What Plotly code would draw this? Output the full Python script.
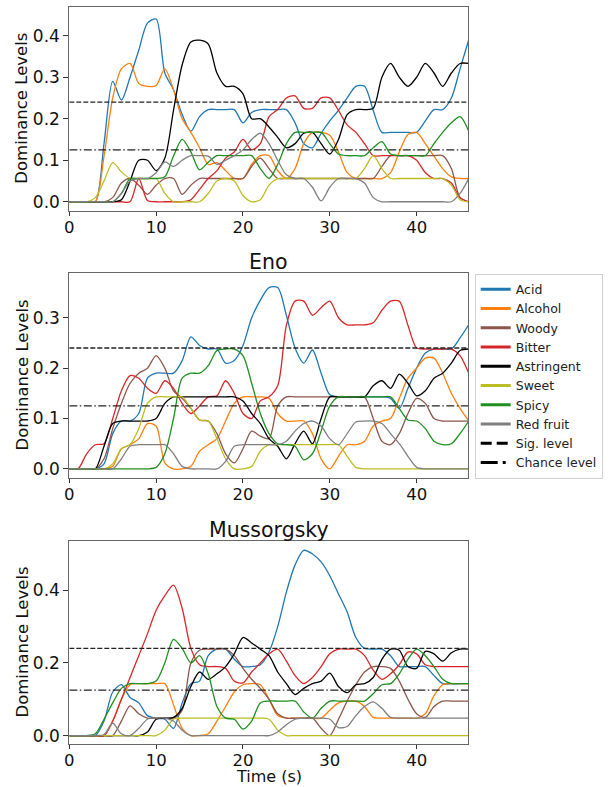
import plotly.graph_objects as go

# ---------------- data ----------------
T = list(range(47))  # seconds 0..46

SERIES = ["Acid", "Alcohol", "Woody", "Bitter", "Astringent", "Sweet", "Spicy", "Red fruit"]
COLORS = ["#1f77b4", "#ff7f0e", "#8c564b", "#d62728", "#000000", "#bcbd22", "#1f8f1f", "#7f7f7f"]

SIG_LEVEL = 0.24
CHANCE_LEVEL = 0.125

PANEL_TITLES = ["", "Eno", "Mussorgsky"]
X_TICKS = [0, 10, 20, 30, 40]
Y_TICKS = [[0.0, 0.1, 0.2, 0.3, 0.4], [0.0, 0.1, 0.2, 0.3], [0.0, 0.2, 0.4]]
Y_TICK_TEXT = [["0.0", "0.1", "0.2", "0.3", "0.4"], ["0.0", "0.1", "0.2", "0.3"], ["0.0", "0.2", "0.4"]]
Y_RANGES = [[-0.0215, 0.4697], [-0.0175, 0.3883], [-0.024, 0.5365]]
X_RANGE = [0, 45.95]

# Panel 1 (top)
p1_acid = [0, 0, 0, 0, 0.14, 0.29, 0.245, 0.30, 0.365, 0.43, 0.44, 0.31, 0.27, 0.21, 0.17, 0.205,
           0.222, 0.222, 0.222, 0.222, 0.19, 0.215, 0.222, 0.222, 0.222, 0.222, 0.19, 0.14, 0.13, 0.165,
           0.195, 0.22, 0.25, 0.278, 0.278, 0.22, 0.167, 0.167, 0.167, 0.167, 0.167, 0.195, 0.222, 0.222,
           0.25, 0.32, 0.39]
p1_alcohol = [0, 0, 0, 0, 0.11, 0.25, 0.32, 0.333, 0.285, 0.278, 0.28, 0.32, 0.27, 0.2, 0.167, 0.13,
              0.09, 0.094, 0.075, 0.056, 0.056, 0.09, 0.111, 0.111, 0.075, 0.056, 0.08, 0.14, 0.167, 0.167,
              0.16, 0.12, 0.07, 0.056, 0.056, 0.056, 0.056, 0.07, 0.12, 0.162, 0.167, 0.14, 0.11, 0.08,
              0.06, 0.056, 0.056]
p1_woody = [0, 0, 0, 0, 0, 0.01, 0.045, 0.056, 0.04, 0.018, 0.04, 0.056, 0.056, 0.018, 0.04, 0.056,
            0.056, 0.056, 0.056, 0.056, 0.056, 0.085, 0.105, 0.08, 0.056, 0.056, 0.056, 0.056, 0.056, 0.056,
            0.056, 0.056, 0.056, 0.056, 0.056, 0.056, 0.085, 0.111, 0.111, 0.111, 0.111, 0.111, 0.111, 0.111,
            0.08, 0.01, 0]
p1_bitter = [0, 0, 0, 0, 0, 0, 0, 0, 0.056, 0.003, 0, 0, 0, 0, 0.005, 0.03,
             0.056, 0.075, 0.105, 0.12, 0.15, 0.125, 0.14, 0.205, 0.222, 0.25, 0.255, 0.225, 0.225, 0.25,
             0.25, 0.22, 0.185, 0.167, 0.14, 0.111, 0.111, 0.111, 0.111, 0.111, 0.1, 0.07, 0.056, 0.056,
             0.045, 0.01, 0]
p1_astringent = [0, 0, 0, 0, 0, 0, 0.005, 0.05, 0.1, 0.1, 0.075, 0.105, 0.22, 0.33, 0.385, 0.389,
                 0.38, 0.31, 0.278, 0.278, 0.26, 0.2, 0.2, 0.18, 0.155, 0.13, 0.14, 0.165, 0.167, 0.14,
                 0.115, 0.15, 0.21, 0.222, 0.222, 0.225, 0.3, 0.333, 0.3, 0.278, 0.3, 0.333, 0.31, 0.278,
                 0.31, 0.333, 0.333]
p1_sweet = [0, 0, 0, 0.01, 0.05, 0.094, 0.072, 0.056, 0.056, 0.056, 0.056, 0.02, 0, 0, 0, 0,
            0.02, 0.05, 0.056, 0.05, 0.015, 0, 0.005, 0.04, 0.056, 0.056, 0.056, 0.056, 0.056, 0.056,
            0.056, 0.056, 0.056, 0.056, 0.08, 0.111, 0.08, 0.056, 0.056, 0.056, 0.056, 0.056, 0.056, 0.056,
            0.04, 0.005, 0]
p1_spicy = [0, 0, 0, 0, 0, 0, 0.02, 0.056, 0.056, 0.056, 0.056, 0.06, 0.11, 0.15, 0.12, 0.077,
            0.095, 0.111, 0.111, 0.111, 0.111, 0.111, 0.08, 0.056, 0.09, 0.14, 0.167, 0.167, 0.167, 0.167,
            0.14, 0.115, 0.111, 0.111, 0.111, 0.13, 0.145, 0.115, 0.111, 0.111, 0.111, 0.111, 0.14, 0.167,
            0.19, 0.205, 0.17]
p1_redfruit = [0, 0, 0, 0, 0, 0, 0.02, 0.05, 0.056, 0.056, 0.07, 0.096, 0.085, 0.1, 0.111, 0.111,
               0.11, 0.09, 0.1, 0.111, 0.125, 0.15, 0.165, 0.14, 0.1, 0.065, 0.056, 0.056, 0.035, 0.002,
               0.035, 0.056, 0.056, 0.056, 0.045, 0.01, 0, 0, 0, 0, 0, 0, 0, 0,
               0, 0.02, 0.056]

# Panel 2 (Eno)
p2_acid = [0, 0, 0, 0, 0.01, 0.07, 0.095, 0.095, 0.11, 0.18, 0.19, 0.19, 0.19, 0.215, 0.262, 0.245,
           0.238, 0.238, 0.21, 0.215, 0.245, 0.3, 0.335, 0.36, 0.36, 0.305, 0.24, 0.21, 0.236, 0.19,
           0.147, 0.143, 0.143, 0.143, 0.143, 0.143, 0.143, 0.14, 0.12, 0.16, 0.2, 0.23, 0.238, 0.238,
           0.238, 0.26, 0.286]
p2_alcohol = [0, 0, 0, 0, 0, 0.005, 0.04, 0.048, 0.06, 0.09, 0.085, 0.012, 0, 0, 0.005, 0.035,
              0.048, 0.06, 0.095, 0.13, 0.143, 0.143, 0.143, 0.14, 0.11, 0.095, 0.095, 0.095, 0.07, 0.02,
              0, 0.025, 0.048, 0.048, 0.055, 0.085, 0.095, 0.1, 0.14, 0.18, 0.2, 0.22, 0.22, 0.19,
              0.15, 0.12, 0.095]
p2_woody = [0, 0, 0, 0, 0.02, 0.08, 0.13, 0.17, 0.19, 0.2, 0.225, 0.2, 0.155, 0.14, 0.12, 0.097,
            0.095, 0.07, 0.03, 0.012, 0.04, 0.075, 0.065, 0.06, 0.125, 0.143, 0.143, 0.143, 0.143, 0.143,
            0.143, 0.143, 0.143, 0.143, 0.143, 0.1, 0.055, 0.048, 0.07, 0.11, 0.14, 0.13, 0.1, 0.095,
            0.095, 0.095, 0.095]
p2_bitter = [0, 0, 0.03, 0.048, 0.05, 0.1, 0.155, 0.185, 0.18, 0.16, 0.15, 0.175, 0.16, 0.13, 0.11, 0.125,
             0.143, 0.145, 0.175, 0.15, 0.11, 0.1, 0.135, 0.143, 0.165, 0.285, 0.333, 0.333, 0.305, 0.32,
             0.333, 0.3, 0.286, 0.286, 0.286, 0.29, 0.315, 0.333, 0.333, 0.285, 0.24, 0.238, 0.238, 0.238,
             0.238, 0.225, 0.19]
p2_astringent = [0, 0, 0, 0, 0.045, 0.09, 0.095, 0.095, 0.095, 0.095, 0.1, 0.13, 0.143, 0.143, 0.143, 0.143,
                 0.143, 0.143, 0.143, 0.143, 0.135, 0.11, 0.09, 0.06, 0.045, 0.02, 0.05, 0.075, 0.05, 0.1,
                 0.143, 0.143, 0.143, 0.143, 0.143, 0.165, 0.175, 0.16, 0.188, 0.17, 0.145, 0.155, 0.18, 0.19,
                 0.21, 0.235, 0.238]
p2_sweet = [0, 0, 0, 0, 0, 0.01, 0.04, 0.048, 0.08, 0.13, 0.143, 0.143, 0.143, 0.143, 0.12, 0.097,
            0.095, 0.06, 0.02, 0, 0, 0.005, 0.035, 0.048, 0.048, 0.048, 0.048, 0.048, 0.048, 0.048,
            0.048, 0.048, 0.025, 0.003, 0, 0, 0, 0, 0, 0, 0, 0, 0, 0,
            0, 0, 0]
p2_spicy = [0, 0, 0, 0, 0, 0, 0, 0, 0, 0, 0.003, 0.03, 0.1, 0.18, 0.19, 0.19,
            0.205, 0.235, 0.238, 0.238, 0.225, 0.17, 0.11, 0.07, 0.05, 0.048, 0.045, 0.018, 0.03, 0.075,
            0.125, 0.143, 0.143, 0.143, 0.143, 0.143, 0.143, 0.143, 0.12, 0.097, 0.095, 0.08, 0.055, 0.048,
            0.05, 0.07, 0.095]
p2_redfruit = [0, 0, 0, 0, 0, 0, 0.02, 0.045, 0.048, 0.048, 0.048, 0.048, 0.03, 0.005, 0, 0,
               0, 0, 0.015, 0.045, 0.048, 0.048, 0.048, 0.048, 0.048, 0.055, 0.075, 0.09, 0.095, 0.085,
               0.06, 0.048, 0.07, 0.093, 0.095, 0.095, 0.09, 0.07, 0.05, 0.025, 0.003, 0, 0, 0,
               0, 0, 0]

# Panel 3 (Mussorgsky)
p3_acid = [0, 0, 0, 0, 0.04, 0.12, 0.14, 0.105, 0.09, 0.055, 0.048, 0.045, 0.02, 0.09, 0.143, 0.15,
           0.22, 0.238, 0.238, 0.21, 0.19, 0.19, 0.195, 0.23, 0.3, 0.395, 0.47, 0.51, 0.5, 0.478,
           0.44, 0.39, 0.34, 0.27, 0.24, 0.238, 0.238, 0.22, 0.19, 0.19, 0.19, 0.19, 0.165, 0.143,
           0.143, 0.143, 0.143]
p3_alcohol = [0, 0, 0, 0, 0, 0.04, 0.1, 0.14, 0.143, 0.143, 0.143, 0.143, 0.085, 0.02, 0, 0,
              0.005, 0.04, 0.08, 0.12, 0.14, 0.143, 0.14, 0.1, 0.055, 0.048, 0.048, 0.048, 0.048, 0.048,
              0.07, 0.09, 0.095, 0.095, 0.08, 0.05, 0.048, 0.048, 0.048, 0.048, 0.048, 0.06, 0.11, 0.14,
              0.143, 0.143, 0.143]
p3_woody = [0, 0, 0, 0, 0, 0, 0.04, 0.082, 0.06, 0.048, 0.048, 0.048, 0.048, 0.07, 0.2, 0.235,
            0.238, 0.238, 0.238, 0.22, 0.185, 0.155, 0.13, 0.1, 0.06, 0.048, 0.048, 0.048, 0.048, 0.02,
            0, 0.045, 0.095, 0.14, 0.175, 0.19, 0.19, 0.185, 0.15, 0.1, 0.06, 0.05, 0.08, 0.095,
            0.095, 0.095, 0.095]
p3_bitter = [0, 0, 0, 0, 0, 0.04, 0.1, 0.16, 0.22, 0.28, 0.345, 0.385, 0.414, 0.35, 0.24, 0.195,
             0.19, 0.19, 0.185, 0.15, 0.145, 0.175, 0.2, 0.225, 0.238, 0.205, 0.165, 0.143, 0.16, 0.19,
             0.225, 0.238, 0.238, 0.238, 0.22, 0.18, 0.155, 0.17, 0.195, 0.23, 0.225, 0.195, 0.19, 0.19,
             0.19, 0.19, 0.19]
p3_astringent = [0, 0, 0, 0, 0, 0, 0, 0, 0, 0.01, 0.045, 0.048, 0.05, 0.075, 0.135, 0.175,
                 0.155, 0.17, 0.19, 0.225, 0.27, 0.255, 0.238, 0.22, 0.175, 0.143, 0.113, 0.13, 0.143, 0.15,
                 0.172, 0.135, 0.118, 0.14, 0.143, 0.16, 0.21, 0.238, 0.235, 0.19, 0.185, 0.232, 0.225, 0.205,
                 0.228, 0.238, 0.238]
p3_sweet = [0, 0, 0, 0, 0, 0, 0, 0, 0, 0, 0, 0.015, 0.045, 0.048, 0.048, 0.048,
            0.048, 0.048, 0.048, 0.048, 0.048, 0.048, 0.048, 0.045, 0.015, 0, 0, 0, 0, 0,
            0, 0, 0, 0, 0, 0, 0, 0, 0, 0, 0, 0, 0, 0,
            0, 0, 0]
p3_spicy = [0, 0, 0, 0.005, 0.045, 0.09, 0.13, 0.143, 0.143, 0.143, 0.15, 0.2, 0.265, 0.24, 0.2, 0.22,
            0.17, 0.08, 0.048, 0.045, 0.018, 0.04, 0.09, 0.095, 0.095, 0.095, 0.095, 0.065, 0.048, 0.075,
            0.095, 0.095, 0.095, 0.095, 0.095, 0.115, 0.14, 0.143, 0.17, 0.21, 0.238, 0.22, 0.19, 0.155,
            0.143, 0.143, 0.143]
p3_redfruit = [0, 0, 0, 0, 0.003, 0.034, 0.005, 0, 0.02, 0.045, 0.048, 0.048, 0.04, 0.015, 0, 0,
               0, 0, 0, 0, 0, 0, 0, 0, 0.01, 0.03, 0.045, 0.048, 0.048, 0.048, 0.045, 0.022,
               0.025, 0.055, 0.08, 0.093, 0.075, 0.05, 0.048, 0.048, 0.048, 0.048, 0.048, 0.048, 0.048,
               0.048, 0.048]

PANELS = [
    [p1_acid, p1_alcohol, p1_woody, p1_bitter, p1_astringent, p1_sweet, p1_spicy, p1_redfruit],
    [p2_acid, p2_alcohol, p2_woody, p2_bitter, p2_astringent, p2_sweet, p2_spicy, p2_redfruit],
    [p3_acid, p3_alcohol, p3_woody, p3_bitter, p3_astringent, p3_sweet, p3_spicy, p3_redfruit],
]

# ---------------- layout geometry ----------------
W, H = 612, 787
X_DOM = [69.3 / W, 468.3 / W]
Y_DOMS = [[1 - 210.7 / H, 1 - 6.7 / H], [1 - 477.7 / H, 1 - 273.3 / H], [1 - 744.3 / H, 1 - 540.7 / H]]
FONT = "DejaVu Sans"

fig = go.Figure()

for p, series_list in enumerate(PANELS):
    xa = "x" if p == 0 else f"x{p + 1}"
    ya = "y" if p == 0 else f"y{p + 1}"
    for name, col, vals in zip(SERIES, COLORS, series_list):
        fig.add_trace(go.Scatter(x=T, y=vals, mode="lines", name=name, showlegend=False,
                                 line=dict(color=col, width=1.3, shape="spline", smoothing=0.8),
                                 xaxis=xa, yaxis=ya, hoverinfo="skip"))
    fig.add_trace(go.Scatter(x=X_RANGE, y=[SIG_LEVEL, SIG_LEVEL], mode="lines", showlegend=False,
                             line=dict(color="#222", width=1.3, dash="5px,2px"),
                             xaxis=xa, yaxis=ya, hoverinfo="skip"))
    fig.add_trace(go.Scatter(x=X_RANGE, y=[CHANCE_LEVEL, CHANCE_LEVEL], mode="lines", showlegend=False,
                             line=dict(color="#222", width=1.3, dash="8px,2.5px,1.5px,2.5px"),
                             xaxis=xa, yaxis=ya, hoverinfo="skip"))

# legend-only entries (thicker handles like the reference legend)
for name, col in zip(SERIES, COLORS):
    fig.add_trace(go.Scatter(x=[None], y=[None], mode="lines", name=name,
                             line=dict(color=col, width=3), xaxis="x2", yaxis="y2"))
fig.add_trace(go.Scatter(x=[None], y=[None], mode="lines", name="Sig. level",
                         line=dict(color="#000", width=3, dash="11px,5px"), xaxis="x2", yaxis="y2"))
fig.add_trace(go.Scatter(x=[None], y=[None], mode="lines", name="Chance level",
                         line=dict(color="#000", width=3, dash="17px,5px,3px,5px"), xaxis="x2", yaxis="y2"))

axis_common = dict(showgrid=False, zeroline=False, showline=True, mirror=True, linecolor="#666",
                   linewidth=1, ticks="outside", tickwidth=1, tickcolor="#333",
                   automargin=False)

layout = dict(width=W, height=H, margin=dict(l=0, r=0, t=0, b=0, autoexpand=False),
              plot_bgcolor="white", paper_bgcolor="white", font=dict(family=FONT, color="#111"),
              legend=dict(x=474.7 / W, y=1 - 273.5 / H, xanchor="left", yanchor="top",
                          bgcolor="white", bordercolor="#d0d0d0", borderwidth=1,
                          font=dict(family=FONT, size=12.5, color="#222"), tracegroupgap=0))

annotations = []
for p in range(3):
    xk = "xaxis" if p == 0 else f"xaxis{p + 1}"
    yk = "yaxis" if p == 0 else f"yaxis{p + 1}"
    ya = "y" if p == 0 else f"y{p + 1}"
    xa = "x" if p == 0 else f"x{p + 1}"
    layout[xk] = dict(domain=X_DOM, anchor=ya, range=X_RANGE, tickvals=X_TICKS, ticklen=4,
                      ticklabelstandoff=-3, ticktext=[str(v) for v in X_TICKS],
                      tickfont=dict(family=FONT, size=16.5, color="#111"), **axis_common)
    layout[yk] = dict(domain=Y_DOMS[p], anchor=xa, range=Y_RANGES[p], tickvals=Y_TICKS[p], ticklen=5,
                      ticktext=Y_TICK_TEXT[p], tickfont=dict(family=FONT, size=17, color="#111"),
                      **axis_common)
    ymid = (Y_DOMS[p][0] + Y_DOMS[p][1]) / 2
    annotations.append(dict(text="Dominance Levels", x=22 / W, y=ymid, xref="paper", yref="paper",
                            textangle=-90, showarrow=False, xanchor="center", yanchor="middle",
                            font=dict(family=FONT, size=16.5, color="#111")))
    if PANEL_TITLES[p]:
        annotations.append(dict(text=PANEL_TITLES[p], x=(X_DOM[0] + X_DOM[1]) / 2, y=Y_DOMS[p][1],
                                xref="paper", yref="paper", showarrow=False, xanchor="center",
                                yanchor="bottom", yshift=-3,
                                font=dict(family=FONT, size=20.5, color="#111")))

annotations.append(dict(text="Time (s)", x=(X_DOM[0] + X_DOM[1]) / 2, y=1 - 776.5 / H, xref="paper",
                        yref="paper", showarrow=False, xanchor="center", yanchor="middle", borderpad=0,
                        font=dict(family=FONT, size=16, color="#111")))
layout["annotations"] = annotations

fig.update_layout(**layout)
fig.write_html("out.html", config={"displayModeBar": False},
               post_script="document.body.style.margin='0';document.body.style.overflow='hidden';")
